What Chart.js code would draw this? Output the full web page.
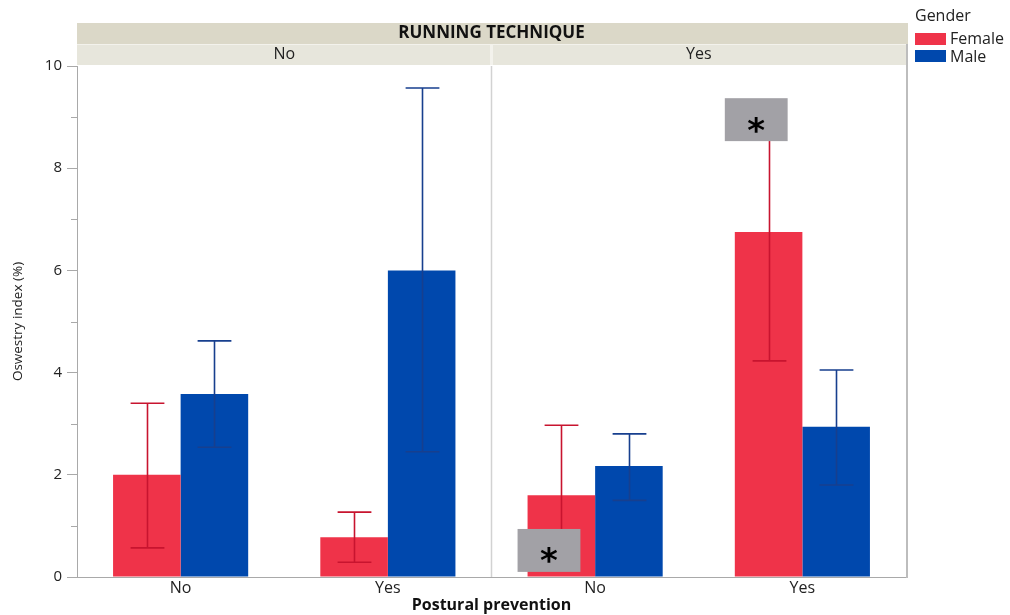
<!DOCTYPE html>
<html>
<head>
<meta charset="utf-8">
<script src="https://cdn.jsdelivr.net/npm/chart.js@4.4.1/dist/chart.umd.min.js"></script>
<style>
  html, body { margin: 0; padding: 0; background: #fff; }
  #chart { display: block; }
</style>
</head>
<body>
<canvas id="chart" width="1010" height="615"></canvas>
<script>
// Categories along the x axis: postural prevention within each running-technique panel
const categories = ['No', 'Yes', 'No', 'Yes'];
const panelLabels = ['No', 'Yes'];
const yTicks = [0, 2, 4, 6, 8, 10];

// Oswestry index means and error-bar limits per gender
const femaleMean = [2.0, 0.78, 1.6, 6.75];
const femaleLow  = [0.57, 0.29, 0.22, 4.23];
const femaleHigh = [3.40, 1.27, 2.97, 9.27];

const maleMean = [3.58, 6.0, 2.17, 2.94];
const maleLow  = [2.54, 2.45, 1.5, 1.8];
const maleHigh = [4.62, 9.57, 2.8, 4.05];

// Significance markers (on the female bar of a category), vertical extent in data units
const markCategory = [2, 3];
const markLow  = [0.1, 8.53];
const markHigh = [0.94, 9.37];

const FONT = "'Open Sans', 'Noto Sans', sans-serif";
const AXIS_GRAY = '#a9a9a9';

const facetPlugin = {
  id: 'facetPanels',
  beforeDraw(chart) {
    const { ctx, chartArea: a, scales: { x } } = chart;
    ctx.save();
    ctx.fillStyle = '#ffffff';
    ctx.fillRect(0, 0, chart.width, chart.height);

    const w = a.right - a.left + 2;
    const mid = (x.getPixelForValue(1) + x.getPixelForValue(2)) / 2;

    // top strip
    ctx.fillStyle = '#dbd8c8';
    ctx.fillRect(a.left, 23, w, 21);
    // sub strip
    ctx.fillStyle = '#e7e6dc';
    ctx.fillRect(a.left, 45, w, 20);
    ctx.fillStyle = '#f3f2ec';
    ctx.fillRect(a.left, 44, w, 1);
    ctx.fillRect(mid - 1.5, 45, 3, 20);

    ctx.fillStyle = '#111';
    ctx.textAlign = 'center';
    ctx.textBaseline = 'middle';
    ctx.font = `bold 17px ${FONT}`;
    ctx.fillText('RUNNING TECHNIQUE', (a.left + a.right) / 2, 33);

    ctx.font = `16px ${FONT}`;
    ctx.fillStyle = '#222';
    ctx.fillText(panelLabels[0], (a.left + mid) / 2, 54);
    ctx.fillText(panelLabels[1], (mid + a.right) / 2, 54);
    ctx.restore();
  },
  beforeDatasetsDraw(chart) {
    const { ctx, chartArea: a, scales: { x } } = chart;
    const mid = (x.getPixelForValue(1) + x.getPixelForValue(2)) / 2;
    ctx.save();
    ctx.strokeStyle = '#d2d2d2';
    ctx.lineWidth = 1.5;
    ctx.beginPath();
    ctx.moveTo(mid, a.top);
    ctx.lineTo(mid, a.bottom);
    ctx.stroke();
    ctx.restore();
  },
  afterDatasetsDraw(chart) {
    const { ctx, scales: { y } } = chart;
    const errs = [
      { low: femaleLow, high: femaleHigh, color: '#c8142f' },
      { low: maleLow, high: maleHigh, color: '#173f8e' }
    ];
    ctx.save();
    errs.forEach((e, di) => {
      const meta = chart.getDatasetMeta(di);
      ctx.strokeStyle = e.color;
      ctx.lineWidth = 1.6;
      meta.data.forEach((bar, i) => {
        const cx = Math.round(bar.x) + 0.5;
        const half = bar.width / 4;
        const yl = y.getPixelForValue(e.low[i]);
        const yh = y.getPixelForValue(e.high[i]);
        ctx.beginPath();
        ctx.moveTo(cx, yh); ctx.lineTo(cx, yl);
        ctx.moveTo(cx - half, yh); ctx.lineTo(cx + half, yh);
        ctx.moveTo(cx - half, yl); ctx.lineTo(cx + half, yl);
        ctx.stroke();
      });
    });

    // significance boxes
    const fMeta = chart.getDatasetMeta(0);
    markCategory.forEach((c, k) => {
      const bar = fMeta.data[c];
      const left = bar.x - bar.width / 2 - 10;
      const bw = bar.width * 0.93;
      const top = y.getPixelForValue(markHigh[k]);
      const bottom = y.getPixelForValue(markLow[k]);
      ctx.fillStyle = '#a2a1a6';
      ctx.fillRect(left, top, bw, bottom - top);
      ctx.fillStyle = '#000';
      ctx.font = `bold 34px 'DejaVu Sans', sans-serif`;
      ctx.textAlign = 'center';
      ctx.textBaseline = 'alphabetic';
      const m = ctx.measureText('*');
      const cy = (top + bottom) / 2 + 5;
      ctx.fillText('*', left + bw / 2, cy + (m.actualBoundingBoxAscent - m.actualBoundingBoxDescent) / 2);
    });
    ctx.restore();
  },
  afterDraw(chart) {
    const { ctx, chartArea: a, scales: { y } } = chart;
    ctx.save();
    // minor ticks at odd values
    ctx.strokeStyle = AXIS_GRAY;
    ctx.lineWidth = 1;
    for (let v = 1; v < 10; v += 2) {
      const py = Math.round(y.getPixelForValue(v)) + 0.5;
      ctx.beginPath();
      ctx.moveTo(a.left - 6, py);
      ctx.lineTo(a.left, py);
      ctx.stroke();
    }
    // right frame edge
    ctx.strokeStyle = '#bdbdbd';
    ctx.lineWidth = 2;
    ctx.beginPath();
    ctx.moveTo(a.right + 1, 44);
    ctx.lineTo(a.right + 1, a.bottom + 1);
    ctx.stroke();

    // legend
    ctx.textAlign = 'left';
    ctx.textBaseline = 'middle';
    ctx.fillStyle = '#222';
    ctx.font = `16px ${FONT}`;
    ctx.fillText('Gender', 915, 16);
    ctx.fillStyle = '#ef3349';
    ctx.fillRect(915, 33, 31, 12);
    ctx.fillStyle = '#0048ad';
    ctx.fillRect(915, 50, 31, 12);
    ctx.fillStyle = '#222';
    ctx.fillText('Female', 950, 39);
    ctx.fillText('Male', 950, 57);
    ctx.restore();
  }
};

new Chart(document.getElementById('chart'), {
  type: 'bar',
  data: {
    labels: categories,
    datasets: [
      { label: 'Female', data: femaleMean, backgroundColor: '#ef3349', borderWidth: 0 },
      { label: 'Male', data: maleMean, backgroundColor: '#0048ad', borderWidth: 0 }
    ]
  },
  options: {
    responsive: false,
    animation: false,
    events: [],
    layout: { padding: { top: 66, right: 104, left: 0, bottom: 0 } },
    datasets: { bar: { barPercentage: 1.0, categoryPercentage: 0.652 } },
    plugins: { legend: { display: false }, tooltip: { enabled: false } },
    scales: {
      x: {
        type: 'category',
        grid: { display: false, drawTicks: false },
        border: { display: true, color: AXIS_GRAY, width: 1 },
        ticks: { color: '#222', font: { family: FONT, size: 16 }, padding: 2, maxRotation: 0, autoSkip: false },
        title: {
          display: true, text: 'Postural prevention', color: '#111',
          font: { family: FONT, size: 16, weight: 'bold' }, padding: { top: 0, bottom: 0 }
        },
        afterFit(s) { s.height = 38; }
      },
      y: {
        min: 0, max: 10,
        afterBuildTicks(s) { s.ticks = yTicks.map(v => ({ value: v })); },
        ticks: { color: '#222', font: { family: FONT, size: 15 }, padding: 5 },
        grid: { drawOnChartArea: false, drawTicks: true, tickLength: 10, color: AXIS_GRAY },
        border: { display: true, color: AXIS_GRAY, width: 1 },
        title: {
          display: true, text: 'Oswestry index (%)', color: '#222',
          font: { family: FONT, size: 13.5 }, padding: { top: 10, bottom: 0 }
        },
        afterFit(s) { s.width = 77; }
      }
    }
  },
  plugins: [facetPlugin]
});
</script>
</body>
</html>
